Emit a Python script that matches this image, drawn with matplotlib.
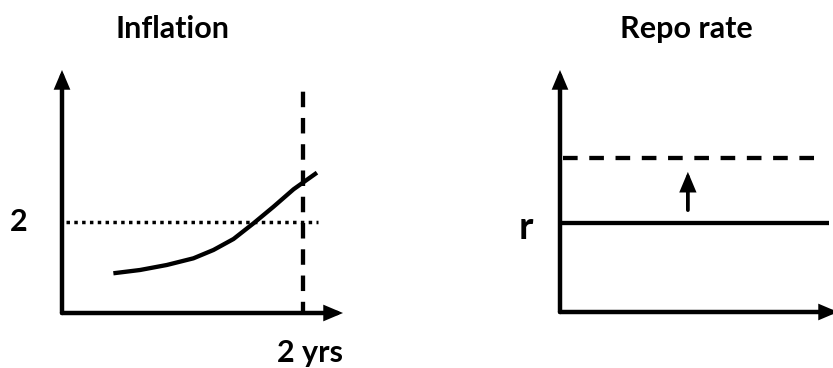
import matplotlib
matplotlib.use("Agg")
from matplotlib import pyplot as plt

# left panel: inflation path (years, percent)
inflation_years = [0.426, 0.647, 0.869, 1.090, 1.256, 1.422, 1.588, 1.754, 1.920, 2.114]
inflation_values = [0.873, 0.945, 1.055, 1.202, 1.385, 1.626, 1.971, 2.336, 2.719, 3.084]
inflation_target = 2
horizon = 2

# right panel: repo rate levels (arbitrary units)
repo_old = 3.68
repo_new = 6.36

W, H = 833, 368
plt.rcParams['font.family'] = ['Lato', 'DejaVu Sans']

fig = plt.figure(figsize=(W / 100, H / 100), dpi=100)

def px_axes(x0, y0, x1, y1):
    # pixel box (left, top, right, bottom) -> figure fraction axes
    return fig.add_axes([x0 / W, 1 - y1 / H, (x1 - x0) / W, (y1 - y0) / H])

def draw_arrow(ax, start, end, lw=3.2, hl=0.85, hw=0.36):
    ax.annotate('', xy=end, xytext=start,
                arrowprops=dict(arrowstyle='-|>,head_length=%g,head_width=%g' % (hl, hw),
                                lw=lw, color='black', shrinkA=0, shrinkB=0,
                                mutation_scale=10, joinstyle='miter'),
                annotation_clip=False)

lw = 3.1
fs = 22

# ---- Inflation ----
ax1 = px_axes(62, 70, 343, 313)
ax1.set_xlim(0, 2.33)
ax1.set_ylim(0, 5.34)
ax1.axis('off')

draw_arrow(ax1, (0, 0), (0, 5.34))
draw_arrow(ax1, (0, 0), (2.33, 0))
ax1.plot([0.03, 2.12], [inflation_target, inflation_target], color='black',
         lw=2.5, linestyle=(0, (1, 1.25)), dash_capstyle='butt')
ax1.plot([horizon, horizon], [0, 5.05], color='black', lw=lw,
         linestyle=(1.0, (3.6, 2.5)), dash_capstyle='butt')
ax1.plot(inflation_years, inflation_values, color='black', lw=lw,
         solid_capstyle='butt', solid_joinstyle='round')

ax1.text(-0.357, 1.80, '2', ha='center', va='baseline', fontsize=fs, fontweight='bold')
ax1.text(2.06, -1.08, '2 yrs', ha='center', va='baseline', fontsize=fs, fontweight='bold')
ax1.text(0.917, 6.04, 'Inflation', ha='center', va='baseline', fontsize=fs, fontweight='bold')

# ---- Repo rate ----
ax2 = px_axes(560, 70, 838, 312)
ax2.set_xlim(0, 10)
ax2.set_ylim(0, 10)
ax2.axis('off')

draw_arrow(ax2, (0, 0), (0, 10))
draw_arrow(ax2, (0, 0), (10, 0))
ax2.plot([0.1, 9.53], [repo_new, repo_new], color='black', lw=lw,
         linestyle=(0, (3.4, 2.7)), dash_capstyle='butt')
ax2.plot([0, 9.68], [repo_old, repo_old], color='black', lw=lw, solid_capstyle='butt')
draw_arrow(ax2, (4.6, repo_old + 0.53), (4.6, repo_new - 0.57), lw=2.7, hl=1.0, hw=0.42)

ax2.text(-1.22, 3.02, 'r', ha='center', va='baseline', fontsize=28, fontweight='bold')
ax2.text(4.54, 11.31, 'Repo rate', ha='center', va='baseline', fontsize=fs, fontweight='bold')

fig.savefig('out.png', dpi=100)
